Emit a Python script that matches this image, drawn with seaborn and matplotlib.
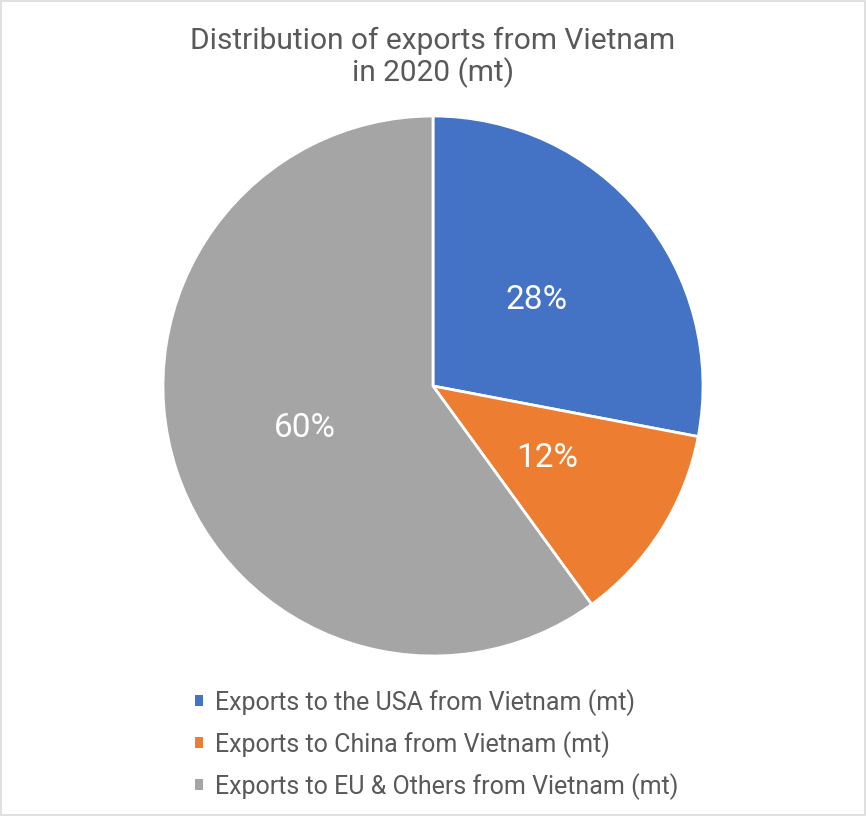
import matplotlib
matplotlib.use('Agg')
import matplotlib.pyplot as plt
import seaborn as sns
from matplotlib.patches import Patch, Rectangle

labels = ['Exports to the USA from Vietnam (mt)',
          'Exports to China from Vietnam (mt)',
          'Exports to EU & Others from Vietnam (mt)']
shares = [28, 12, 60]
colors = ['#4472C4', '#ED7D31', '#A5A5A5']

sns.set_theme(style='white')
plt.rcParams['font.family'] = ['Roboto', 'DejaVu Sans']
text_color = '#595959'

fig = plt.figure(figsize=(8.66, 8.16), dpi=100)
ax = fig.add_axes([163 / 866, 160 / 816, 540 / 866, 540 / 816])

wedges, texts, autotexts = ax.pie(
    shares, colors=colors, startangle=90, counterclock=False,
    autopct='%1.0f%%', pctdistance=0.5, radius=1.0,
    wedgeprops={'edgecolor': 'white', 'linewidth': 2},
    textprops={'color': 'white', 'fontsize': 24})
ax.set_xlim(-1, 1)
ax.set_ylim(-1, 1)
ax.set_aspect('equal')
ax.axis('off')

fig.text(0.5, 1 - 57 / 816, 'Distribution of exports from Vietnam\nin 2020 (mt)',
         ha='center', va='center', fontsize=21.5, color=text_color,
         linespacing=1.1)

handles = [Patch(facecolor=c, edgecolor='none') for c in colors]
leg = fig.legend(handles, labels, loc='upper left',
                 bbox_to_anchor=(195 / 866, 1 - 689 / 816),
                 frameon=False, fontsize=18, handlelength=0.3,
                 handleheight=0.3, handletextpad=0.5, labelspacing=0.6,
                 borderaxespad=0, borderpad=0)
for t in leg.get_texts():
    t.set_color(text_color)

fig.patches.append(Rectangle((0.001, 0.001), 0.998, 0.998, transform=fig.transFigure,
                             fill=False, edgecolor='#D9D9D9', linewidth=1.2))

fig.savefig('out.png', dpi=100, facecolor='white')
